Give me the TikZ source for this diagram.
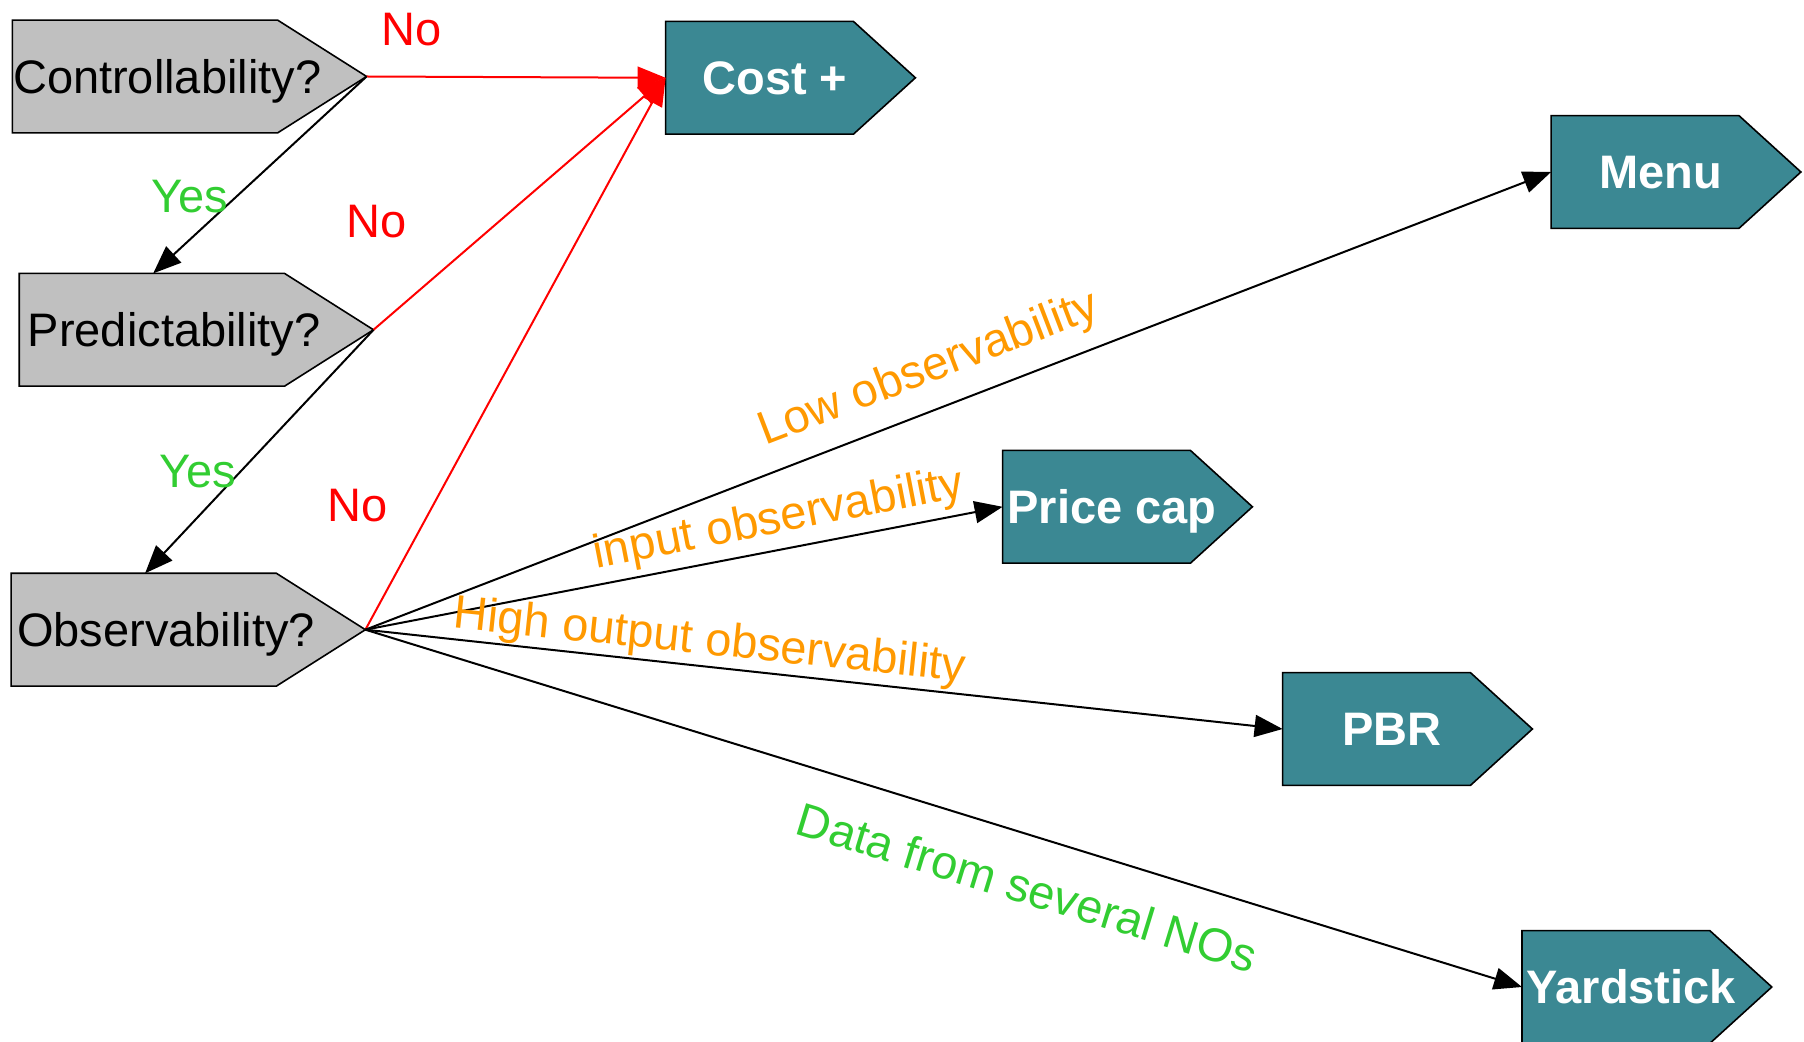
\documentclass[tikz,border=0pt]{standalone}
\usepackage{fontspec}
\setmainfont{Liberation Sans}
\usetikzlibrary{arrows.meta,backgrounds}
\definecolor{tagteal}{RGB}{59,136,147}
\definecolor{taggray}{RGB}{192,192,192}
\definecolor{yesgreen}{RGB}{50,205,50}
\definecolor{obsorange}{RGB}{255,153,0}
\begin{document}
\begin{tikzpicture}[x=0.5pt,y=-0.5pt,
  every node/.style={font=\fontsize{23.5}{28}\selectfont},
  question/.style={rectangle, inner sep=0pt, minimum width=154.5pt, minimum height=56pt,
    text height=16.8pt, text depth=0pt},
  outcome/.style={rectangle, inner sep=0pt, minimum width=109pt, minimum height=56pt,
    text height=16.8pt, text depth=0pt,
    text=white, font=\fontsize{23.5}{28}\selectfont\bfseries},
  flow/.style={draw=black, line width=1pt, -{Triangle[length=14pt,width=11pt]}},
  reject/.style={draw=red, line width=1pt, -{Triangle[length=14pt,width=11pt]}},
  nolabel/.style={text=red},
  yeslabel/.style={text=yesgreen},
  obslabel/.style={text=obsorange},
]
\useasboundingbox (0,0) rectangle (1804,1042);

% questions
\node[question] (ctrl) at (167.2,76.5) {Controllability?};
\node[question] (pred) at (174.1,329.8) {Predictability?};
\node[question] (obs)  at (166,629.7) {Observability?};

% regulation schemes
\node[outcome] (cost)  at (775,77.8) {Cost +};
\node[outcome] (menu)  at (1660.5,172) {Menu};
\node[outcome] (price) at (1112,506.8) {Price cap};
\node[outcome] (pbr)   at (1392,729) {PBR};
\node[outcome] (yard)  at (1631.4,987) {Yardstick};

% tag-shaped outlines behind the texts
\begin{scope}[on background layer]
  \foreach \n/\s/\c in {ctrl/22.25pt/taggray, pred/22.25pt/taggray, obs/22.25pt/taggray,
      cost/15.5pt/tagteal, menu/15.5pt/tagteal, price/15.5pt/tagteal,
      pbr/15.5pt/tagteal, yard/15.5pt/tagteal}
    \path[fill=\c, draw=black, line width=0.8pt]
      (\n.north west) -- ([xshift=-\s]\n.north east) -- ([xshift=\s]\n.east)
      -- ([xshift=-\s]\n.south east) -- (\n.south west) -- cycle;
\end{scope}

% tips and entry points
\coordinate (ctrl-tip) at ([xshift=22.25pt]ctrl.east);
\coordinate (pred-tip) at ([xshift=22.25pt]pred.east);
\coordinate (obs-tip)  at ([xshift=22.25pt]obs.east);
\coordinate (pred-in)  at ([xshift=67pt]pred.north west);
\coordinate (obs-in)   at ([xshift=67pt]obs.north west);

% connectors
\draw[reject] (ctrl-tip) -- (cost.west);
\draw[flow]   (ctrl-tip) -- (pred-in);
\draw[reject] (pred-tip) -- (cost.west);
\draw[flow]   (pred-tip) -- (obs-in);
\draw[reject] (obs-tip) -- (cost.west);
\draw[flow]   (obs-tip) -- (menu.west);
\draw[flow]   (obs-tip) -- (price.west);
\draw[flow]   (obs-tip) -- (pbr.west);
\draw[flow]   (obs-tip) -- (yard.west);

% connector labels
\node[nolabel]  (no1)  at (412,29.2) {No};
\node[yeslabel] (yes1) at (190,197) {Yes};
\node[nolabel]  (no2)  at (377,221.7) {No};
\node[yeslabel] (yes2) at (197.7,471.3) {Yes};
\node[nolabel]  (no3)  at (357.5,505.8) {No};
\node[obslabel, rotate=21]  (low)     at (929,370) {Low observability};
\node[obslabel, rotate=11]  (input)   at (779,520.5) {input observability};
\node[obslabel, rotate=-6]  (high)    at (709.5,642.5) {High output observability};
\node[yeslabel, rotate=-17] (several) at (1027,887) {Data from several NOs};
\end{tikzpicture}
\end{document}
